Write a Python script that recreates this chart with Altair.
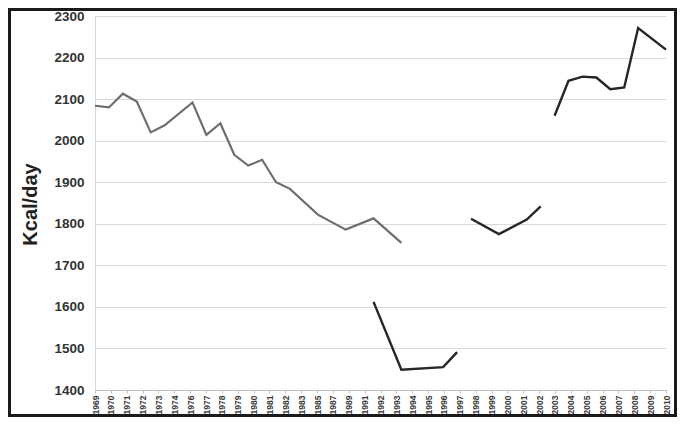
import altair as alt
import pandas as pd

# Category labels shown on the x axis (uniformly spaced)
x_labels = ['1969', '1970', '1971', '1972', '1973', '1974', '1976', '1977', '1978',
            '1979', '1980', '1981', '1982', '1983', '1985', '1987', '1989', '1991',
            '1992', '1993', '1994', '1995', '1996', '1997', '1998', '1999', '2000',
            '2001', '2002', '2003', '2004', '2005', '2006', '2007', '2008', '2009', '2010']

# Grey series
gray_years = [1969, 1970, 1971, 1972, 1973, 1974, 1976, 1977, 1978, 1979, 1980,
              1981, 1982, 1983, 1985, 1987, 1989, 1991]
gray_vals = [2084, 2080, 2113, 2094, 2020, 2037, 2092, 2014, 2042, 1966, 1940,
             1954, 1900, 1884, 1822, 1786, 1813, 1754]

# Black series, three separate pieces
seg1_years = [1989, 1991, 1994, 1995]
seg1_vals = [1612, 1449, 1455, 1491]
seg2_years = [1996, 1998, 2000, 2001]
seg2_vals = [1812, 1775, 1810, 1842]
seg3_years = [2002, 2003, 2004, 2005, 2006, 2007, 2008, 2010]
seg3_vals = [2060, 2144, 2154, 2152, 2124, 2128, 2271, 2219]

gray_df = pd.DataFrame({'year': gray_years, 'kcal': gray_vals})
black_df = pd.DataFrame({
    'year': seg1_years + seg2_years + seg3_years,
    'kcal': seg1_vals + seg2_vals + seg3_vals,
    'seg': ['a'] * len(seg1_years) + ['b'] * len(seg2_years) + ['c'] * len(seg3_years),
})

x0, x1 = 1969, 2010
n = len(x_labels)
tick_pos = [x0 + i * (x1 - x0) / (n - 1) for i in range(n)]
arr = '[' + ','.join("'%s'" % s for s in x_labels) + ']'
label_expr = "%s[round((datum.value-%d)*%d/%d)]" % (arr, x0, n - 1, x1 - x0)

W, H = 571, 374
PL, PT, PR, PB = 87, 8, 11, 27

x_enc = alt.X('year:Q',
              scale=alt.Scale(domain=[x0, x1], nice=False, zero=False),
              axis=alt.Axis(values=tick_pos, tickCount=200, labelExpr=label_expr,
                            labelAngle=-90,
                            title=None, grid=False, labelFontSize=8.5, labelFontWeight='bold',
                            labelColor='#3a3a3a', labelFont='Liberation Sans',
                            tickColor='#bfbfbf', tickSize=3, domainColor='#bfbfbf',
                            labelPadding=2, labelOverlap=False, labelFlush=False))
y_enc = alt.Y('kcal:Q',
              scale=alt.Scale(domain=[1400, 2300], nice=False, zero=False),
              axis=alt.Axis(values=list(range(1400, 2301, 100)), format='d',
                            title='Kcal/day',
                            grid=True, gridColor='#d9d9d9', gridWidth=1,
                            ticks=False, domainColor='#d9d9d9',
                            labelFontSize=13.5, labelFontWeight='bold', labelColor='#333333',
                            labelFont='Liberation Sans', labelPadding=11,
                            titleFontSize=20, titleFontWeight='bold', titleColor='#222222',
                            titleFont='Liberation Sans', titleAngle=-90,
                            titleX=-65, titleY=H / 2 + 1, titleAlign='center',
                            titleBaseline='middle'))

gray_line = alt.Chart(gray_df).mark_line(color='#6e6e6e', strokeWidth=2.2).encode(
    x=x_enc, y=y_enc)
black_line = alt.Chart(black_df).mark_line(color='#262626', strokeWidth=2.4).encode(
    x='year:Q', y='kcal:Q', detail='seg:N')

frame = alt.Chart(alt.Data(values=[{}])).mark_rect(
    filled=False, stroke='#1a1a1a', strokeWidth=3).encode(
    x=alt.value(-PL + 1.5), x2=alt.value(W + PR - 1.5),
    y=alt.value(-PT + 1.5), y2=alt.value(H + PB - 1.5))

chart = alt.layer(gray_line, black_line, frame).properties(
    width=W, height=H,
    autosize=alt.AutoSizeParams(type='none'),
    padding={'left': PL, 'top': PT, 'right': PR, 'bottom': PB},
    background='white',
).configure_view(stroke=None)

chart.save('out.html', embed_options={'renderer': 'svg', 'actions': False})
